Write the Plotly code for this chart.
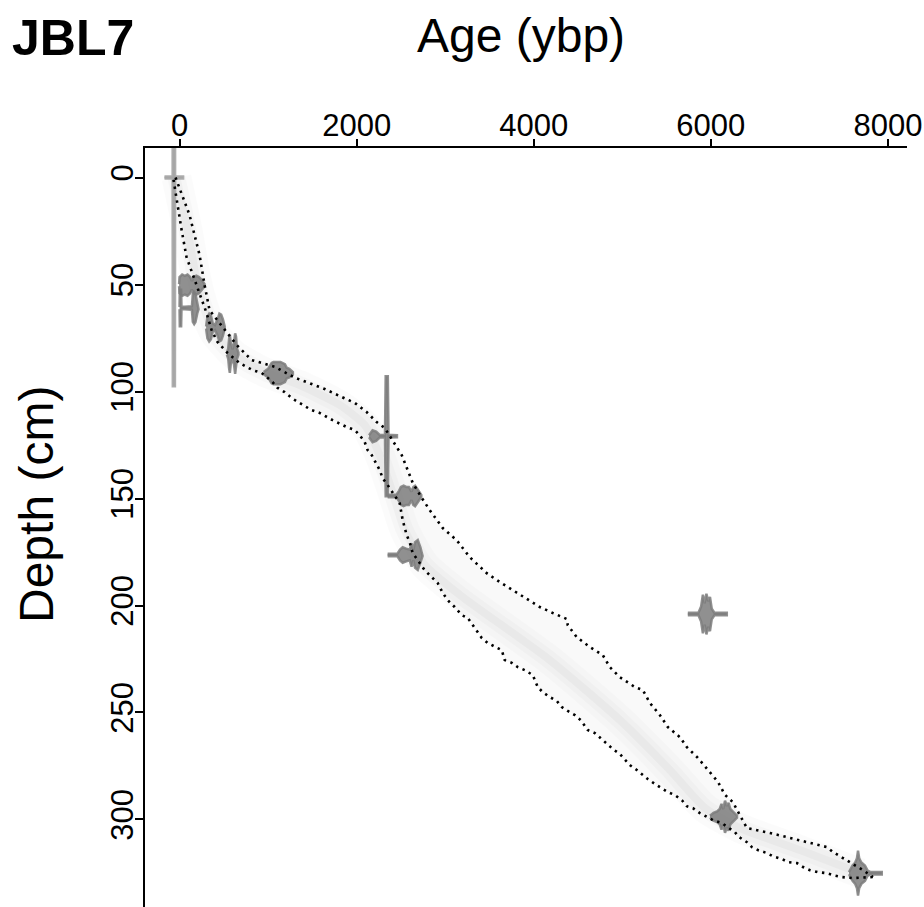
import plotly.graph_objects as go

# ---------------- data ----------------
# 95% range of the age-depth model: older (max age) boundary
old_age = [-45, 113, 226, 283, 339, 475, 644, 814, 983, 1073, 1300, 1469, 1639, 1808, 1978,
           2113, 2226, 2317, 2407, 2509, 2576, 2633, 2735, 2825, 2972, 3130, 3277, 3469, 3616,
           3763, 3921, 4068, 4215, 4373, 4384, 4486, 4633, 4780, 4859, 4972, 5142, 5232, 5311,
           5424, 5514, 5650, 5729, 5853, 5966, 6080, 6159, 6249, 6328, 6407, 6667, 6859, 7119,
           7311, 7379, 7537, 7718, 7831]
old_depth = [0, 17.5, 36.2, 50.3, 62, 69.1, 78.2, 85.3, 87.4, 88.4, 93.5, 96, 98.8, 102.1, 105.3,
             109.6, 114.3, 117, 122.7, 129.7, 136.7, 142.7, 149.7, 155.4, 163.8, 169.5, 177.4, 184.9, 189,
             192.8, 196.5, 200.7, 203.5, 206.3, 209.2, 214.8, 219.4, 223.2, 228.8, 233.5, 238.1, 239.5, 245.5,
             251.2, 256.8, 261.5, 266.2, 271.2, 276.8, 282.4, 288.5, 291.9, 298, 304, 306.3, 308.2, 311,
             312.9, 315.2, 319, 323.7, 326.9]

# younger (min age) boundary
young_age = [-68, -34, 23, 79, 170, 249, 305, 362, 429, 542, 678, 825, 927, 1051, 1107, 1187,
             1266, 1333, 1492, 1582, 1729, 1887, 1978, 2034, 2091, 2124, 2170, 2260, 2294, 2350,
             2486, 2520, 2542, 2565, 2599, 2633, 2712, 2768, 2825, 2915, 2972, 3028, 3107, 3187,
             3254, 3311, 3367, 3413, 3480, 3560, 3639, 3672, 3752, 3819, 3898, 3989, 4045, 4102,
             4181, 4260, 4317, 4384, 4464, 4531, 4610, 4690, 4769, 4825, 4893, 4972, 5029, 5085,
             5164, 5232, 5288, 5368, 5447, 5514, 5594, 5673, 5729, 5797, 5876, 5955, 6023, 6125,
             6215, 6272, 6317, 6407, 6464, 6531, 6633, 6701, 6803, 6871, 6972, 7040, 7119, 7209,
             7311, 7379, 7481, 7594, 7831]
young_depth = [1, 10.6, 24.4, 37.2, 47.7, 56.3, 63.3, 71.3, 76.9, 82, 86.7, 90, 91.3, 95.6, 98.3, 100.3,
               103, 104.8, 108.7, 110, 113.4, 116.6, 118, 120.4, 123.6, 127.4, 129.7, 136.7, 140.5, 143.7,
               152.2, 160.1, 163.4, 167.1, 170.4, 175.5, 180.1, 183.5, 185.8, 189.5, 194.1, 197.5, 200.7, 204.5,
               205.8, 209.2, 212.4, 215.2, 217.5, 219.4, 220.9, 225.5, 226.8, 228.8, 230.2, 232.5, 238.1, 240.5,
               242.8, 244.6, 247.5, 249.3, 251.2, 253.6, 258.2, 259.6, 262.4, 264.7, 267.1, 269.4, 272.3, 274.6,
               276.9, 279.3, 281.1, 283.4, 285.4, 287.2, 288.6, 291, 293.8, 294.7, 297, 298.9, 300.3, 301.7,
               304.1, 305.9, 308.2, 310.6, 312.9, 314.3, 315.7, 317.2, 318.5, 319.9, 320.4, 322.2, 323.7, 324.6,
               325.1, 326, 326.9, 327.4, 326.9]

# best (median) model path
median_age = [-34, 90, 192, 283, 396, 622, 961, 1356, 1808, 2091, 2260, 2396, 2542, 2768,
              3164, 4181, 4972, 5537, 5932, 6328, 7006, 7684]
median_depth = [0, 24.5, 47.9, 61.9, 72.7, 83, 90.9, 97, 106.3, 115.7, 129.7, 146, 164.7, 181,
                195, 225.5, 253.5, 276.9, 294.6, 304, 314.3, 325]

# calibrated dates: depth of each date, and its distribution profile (age, half-height in cm)
date_depth = [0, 50.3, 61, 70.1, 82.3, 91.4, 120.9, 148.8, 176.4, 204, 298.7, 325.1]
date_ages = [
    [-170, -78, -76, -52, -50, 40],
    [-5, 0, 30, 60, 90, 120, 140, 160, 190, 220, 250, 283],
    [0, 3, 18, 22, 60, 100, 140, 150, 165, 180, 200, 215],
    [300, 315, 335, 355, 375, 400, 430, 450, 470, 490, 510],
    [535, 550, 560, 568, 578, 600, 615, 628, 638, 648, 665],
    [950, 1000, 1040, 1060, 1100, 1140, 1190, 1210, 1240, 1280],
    [2140, 2180, 2220, 2260, 2320, 2328, 2352, 2360, 2400, 2455],
    [2350, 2450, 2480, 2500, 2530, 2560, 2590, 2620, 2640, 2660, 2680, 2700, 2730],
    [2350, 2460, 2490, 2520, 2560, 2600, 2620, 2640, 2660, 2690, 2720, 2745],
    [5740, 5860, 5890, 5910, 5930, 5950, 5970, 5990, 6010, 6040, 6180],
    [5990, 6030, 6070, 6100, 6120, 6140, 6160, 6180, 6200, 6220, 6250, 6295],
    [7560, 7600, 7630, 7650, 7662, 7675, 7700, 7740, 7770, 7800, 7930],
]
date_heights = [
    [0.5, 0.5, 97.5, 97.5, 0.5, 0.5],
    [0.5, 3.8, 5, 4.4, 5, 3.8, 2, 3.8, 4.4, 3.8, 2.5, 0.5],
    [0.5, 8.5, 8.5, 0.6, 0.6, 0.6, 0.8, 6.5, 7.5, 6.5, 2.5, 0.5],
    [0.5, 5, 6.5, 5.5, 2, 1.2, 3.8, 6.5, 6, 3.8, 0.5],
    [0.5, 2.5, 7, 9, 5, 2, 5, 9.5, 8, 2.5, 0.5],
    [0.5, 2, 4.8, 5.2, 5.2, 5.2, 4.2, 2.5, 2, 0.5],
    [0.5, 2.8, 2.2, 0.6, 0.6, 28, 28, 0.6, 0.6, 0.5],
    [0.6, 0.6, 2.5, 4.2, 4.8, 4.2, 4.2, 2, 4.2, 4.8, 3.6, 2.4, 0.5],
    [0.6, 0.6, 2.5, 3.6, 3, 2.5, 5.5, 2.5, 6, 7, 3.6, 0.5],
    [0.6, 0.6, 3.5, 9, 5, 9.5, 6, 8, 2.5, 0.6, 0.6],
    [0.5, 1.8, 2.5, 3.6, 6, 3.6, 7.5, 5, 6.5, 3.6, 2.4, 0.5],
    [0.5, 3.6, 5, 7, 10.5, 7, 5, 3.6, 1.2, 0.6, 0.6],
]

x_ticks = [0, 2000, 4000, 6000, 8000]
y_ticks = [0, 50, 100, 150, 200, 250, 300]
x_range = [-390, 8215]
y_range = [340.9, -13.8]

# ---------------- styling ----------------
FONT = "Liberation Sans, Arial, Helvetica, sans-serif"
DATE_COLOURS = ["rgba(165,165,165,0.9)"] + ["rgba(125,125,125,0.85)"] * 11

fig = go.Figure()

# model envelope (very light grey)
fig.add_trace(go.Scatter(
    x=old_age + young_age[::-1], y=old_depth + young_depth[::-1],
    mode="lines", fill="toself", fillcolor="rgba(0,0,0,0.022)",
    line=dict(width=0), hoverinfo="skip", showlegend=False))

# soft darker core of the model
for w, a in ((30, 0.016), (18, 0.02), (8, 0.028)):
    fig.add_trace(go.Scatter(
        x=median_age, y=median_depth, mode="lines",
        line=dict(color=f"rgba(0,0,0,{a})", width=w, shape="spline", smoothing=0.6),
        hoverinfo="skip", showlegend=False))

# date distributions
for d, ages, hs, col in zip(date_depth, date_ages, date_heights, DATE_COLOURS):
    xs = ages + ages[::-1]
    ys = [d - h for h in hs] + [d + h for h in hs[::-1]]
    fig.add_trace(go.Scatter(
        x=xs, y=ys, mode="lines", fill="toself",
        fillcolor=col, line=dict(color=col, width=2.5),
        hoverinfo="skip", showlegend=False))

# dotted 95% boundaries
for ax_, dy_ in ((old_age, old_depth), (young_age, young_depth)):
    fig.add_trace(go.Scatter(
        x=ax_, y=dy_, mode="lines",
        line=dict(color="black", width=2.6, dash="2.4px,4.6px"),
        hoverinfo="skip", showlegend=False))

L, R, T, B = 145, 17, 148, 0
W, H = 924, 907
pw, ph = W - L - R, H - T - B


def px(x, y):
    return (x - L) / pw, (H - B - y) / ph


ann = []
for text, (x, y), size, anchor, angle in (
        ("<b>JBL7</b>", (10, 38), 50, "left", 0),
        ("Age (ybp)", (521, 35), 48, "center", 0),
        ("Depth (cm)", (37, 505), 48, "center", -90)):
    ax_p, ay_p = px(x, y)
    ann.append(dict(text=text, x=ax_p, y=ay_p, xref="paper", yref="paper", showarrow=False,
                    font=dict(size=size, family=FONT, color="black"), xanchor=anchor,
                    yanchor="middle", textangle=angle))

fig.update_layout(
    width=W, height=H,
    margin=dict(l=L, r=R, t=T, b=B, pad=0),
    paper_bgcolor="white", plot_bgcolor="white",
    font=dict(family=FONT, color="black"),
    showlegend=False,
    xaxis=dict(side="top", range=x_range, tickvals=x_ticks, ticktext=[str(v) for v in x_ticks],
               showline=True, linecolor="black", linewidth=2, ticks="outside", ticklen=7,
               tickwidth=2, tickcolor="black", showgrid=False, zeroline=False,
               ticklabelstandoff=-9, tickfont=dict(size=31, family=FONT)),
    yaxis=dict(range=y_range, tickvals=y_ticks, ticktext=[str(v) for v in y_ticks],
               showline=True, linecolor="black", linewidth=2, ticks="outside", ticklen=8,
               tickwidth=2, tickcolor="black", showgrid=False, zeroline=False,
               tickangle=-90, ticklabelstandoff=-10, tickfont=dict(size=31, family=FONT)),
    annotations=ann,
)

fig.write_html("out.html")
